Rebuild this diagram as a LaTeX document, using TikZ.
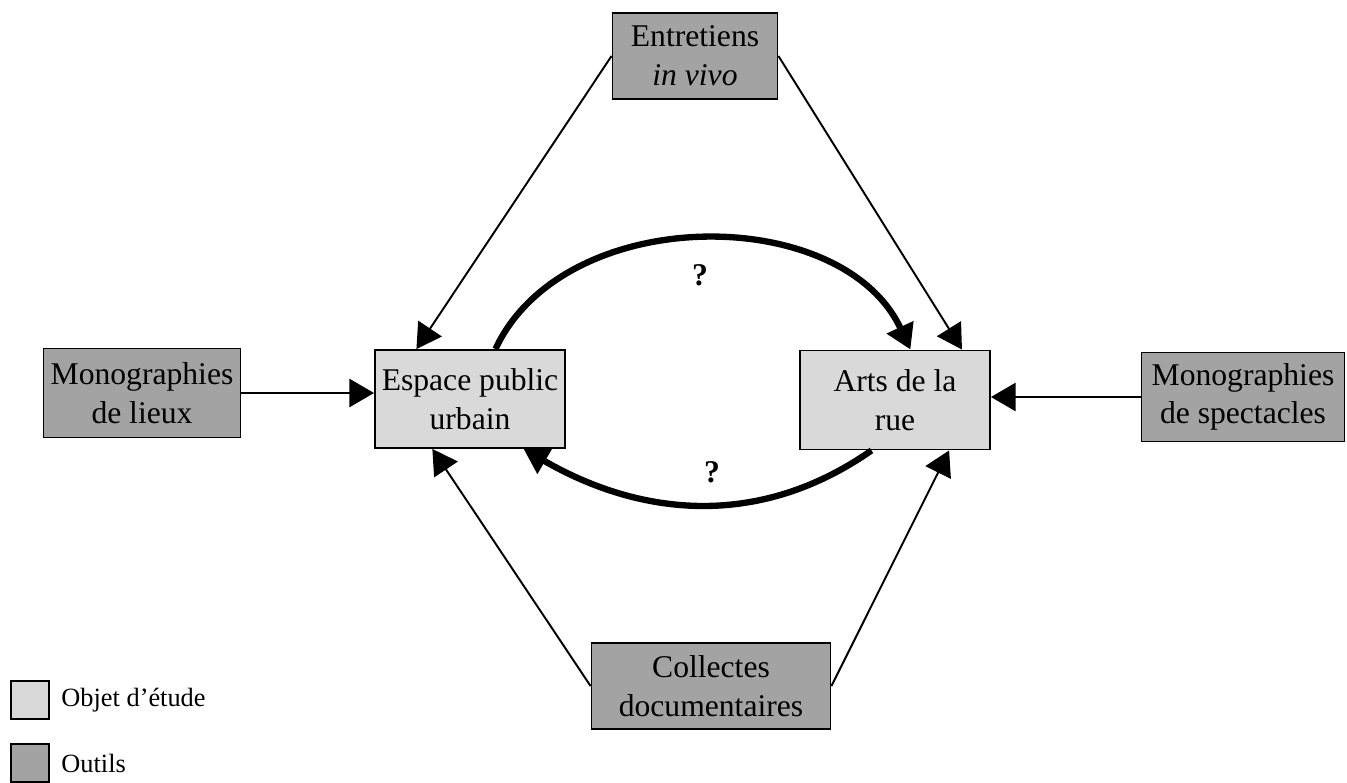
\documentclass[tikz,border=0pt]{standalone}
\usepackage{fontspec}
\setmainfont{Liberation Serif}
\usetikzlibrary{arrows.meta,positioning}
\begin{document}
\begin{tikzpicture}[x=0.02cm,y=-0.02cm,>={Triangle[length=14pt,width=16pt]},
	boite/.style={draw,line width=1.1pt,align=center,inner sep=0pt,font=\fontsize{18}{22}\selectfont},
	objet/.style={boite,fill=black!15},
	outil/.style={boite,fill=black!36},
	fleche/.style={->,line width=1.1pt},
	boucle/.style={->,line width=3.6pt},
	legende/.style={draw,line width=1.1pt,minimum size=0.76cm,inner sep=0pt}]
	\useasboundingbox (0,0) rectangle (1347,782);
	\node[outil,minimum width=3.3cm,minimum height=1.72cm] (entretiens) at (695,56) {Entretiens\\\textit{in vivo}};
	\node[outil,minimum width=3.94cm,minimum height=1.78cm] (mlieux) at (142,393) {Monographies\\de lieux};
	\node[objet,minimum width=3.8cm,minimum height=1.96cm] (espace) at (470,399) {Espace public\\urbain};
	\node[objet,minimum width=3.8cm,minimum height=1.98cm] (arts) at (895,400) {Arts de la\\rue};
	\node[outil,minimum width=4.06cm,minimum height=1.78cm] (mspect) at (1243,397) {Monographies\\de spectacles};
	\node[outil,minimum width=4.78cm,minimum height=1.72cm] (collectes) at (711,686) {Collectes\\documentaires};
	\draw[fleche] (mlieux.east) -- (mlieux.east -| espace.west);
	\draw[fleche] (mspect.west) -- (mspect.west -| arts.east);
	\draw[fleche] (entretiens.west) -- (espace.137);
	\draw[fleche] (entretiens.east) -- (arts.37);
	\draw[fleche] (collectes.west) -- (espace.233);
	\draw[fleche] (collectes.east) -- (arts.-43);
	\draw[boucle] (espace.63) to[out=65,in=115] (arts.73);
	\draw[boucle] (arts.245) to[out=215,in=-30] (espace.317);
	\node[font=\bfseries\fontsize{18}{22}\selectfont] (q1) at (700,275) {?};
	\node[font=\bfseries\fontsize{18}{22}\selectfont] (q2) at (712,472) {?};
	\node[legende,fill=black!15] (lobjet) at (30,700) {};
	\node[right=3pt of lobjet,font=\fontsize{15}{18}\selectfont] (tobjet) {Objet d’étude};
	\node[legende,fill=black!36] (loutil) at (30,763) {};
	\node[right=3pt of loutil,font=\fontsize{15}{18}\selectfont] (toutil) {Outils};
\end{tikzpicture}
\end{document}
